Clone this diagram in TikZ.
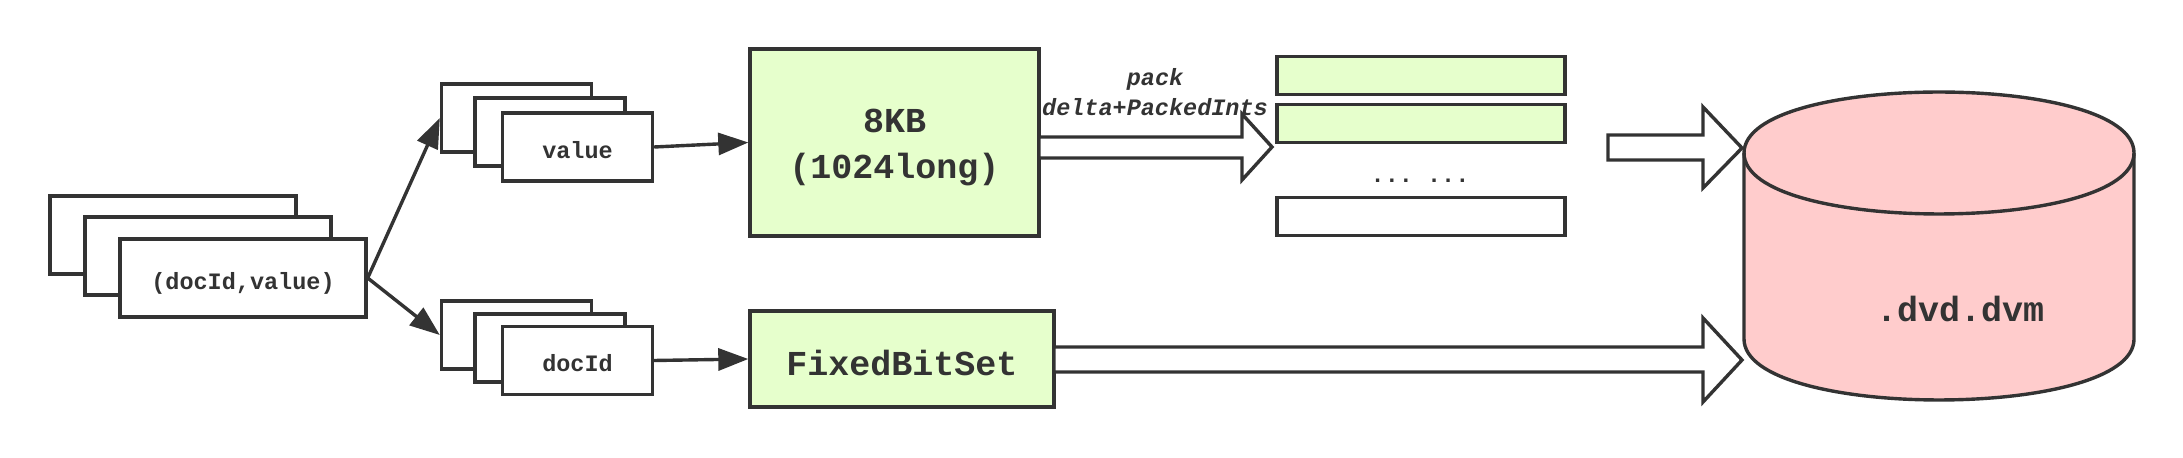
\documentclass[tikz,border=0pt]{standalone}
\usepackage{fontspec}
\setmonofont{Liberation Mono}
\usetikzlibrary{arrows.meta}
\definecolor{ink}{HTML}{333333}
\definecolor{leaf}{HTML}{E6FFCC}
\definecolor{rose}{HTML}{FFCCCC}
\begin{document}
\begin{tikzpicture}[x=0.5pt,y=-0.5pt,line width=1.7pt,draw=ink,
  card/.style={draw=ink,fill=white,line width=1.7pt,inner sep=0pt,text=ink,
    text height=14pt,text depth=2.5pt,
    font=\ttfamily\bfseries\fontsize{11.75}{14}\selectfont},
  bigcard/.style={draw=ink,fill=leaf,line width=1.7pt,inner sep=0pt,text=ink,
    font=\ttfamily\bfseries\fontsize{17.5}{23}\selectfont},
  slot/.style={draw=ink,line width=1.7pt,inner sep=0pt,minimum width=144pt,minimum height=19pt},
  conn/.style={draw=ink,line width=1.7pt,-{Triangle[length=15pt,width=11pt]}},
  fatarrow/.style={draw=ink,fill=white,line width=1.7pt,line join=miter},
  lbl/.style={text=ink,inner sep=0pt,font=\ttfamily\bfseries\itshape\fontsize{11.75}{15}\selectfont,align=center}]
\useasboundingbox (0,0) rectangle (2183,458);
% left stack
\node[card,minimum width=123pt,minimum height=39pt] (la) at (173,235) {};
\node[card,minimum width=123pt,minimum height=39pt] (lb) at (208,256) {};
\node[card,minimum width=123pt,minimum height=39pt] (lc) at (243,278) {(docId,value)};
% top stack
\node[card,minimum width=75pt,minimum height=34pt] (ta) at (516.5,118) {};
\node[card,minimum width=75pt,minimum height=34pt] (tb) at (550,132) {};
\node[card,minimum width=75pt,minimum height=34pt] (tc) at (577.5,147) {value};
% bottom stack
\node[card,minimum width=75pt,minimum height=34pt] (ba) at (516.5,335) {};
\node[card,minimum width=75pt,minimum height=34pt] (bb) at (550,348) {};
\node[card,minimum width=75pt,minimum height=34pt] (bc) at (577.5,360.5) {docId};
% green boxes
\node[bigcard,minimum width=144.5pt,minimum height=93.5pt,align=center] (kb) at (894.5,142.5) {\rule{0pt}{17pt}8KB\\(1024long)};
\node[bigcard,minimum width=152pt,minimum height=48pt,text height=16.5pt,text depth=0pt] (fbs) at (902,359) {FixedBitSet};
% bars
\node[slot,fill=leaf] (s1) at (1421,75.5) {};
\node[slot,fill=leaf] (s2) at (1421,123.5) {};
\node[slot,fill=white] (s3) at (1421,216.5) {};
\node[text=ink,inner sep=0pt,font=\ttfamily\bfseries\fontsize{11.75}{14}\selectfont] (dots) at (1420,181) {... ...};
% pack label
\node[lbl] (packlbl) at (1155,92) {pack\\delta+PackedInts};
% cylinder
\draw[fill=rose,draw=ink,line width=1.7pt] (1744,153) .. controls (1744,71.7) and (2134,71.7) .. (2134,153)
  -- (2134,339) .. controls (2134,420.3) and (1744,420.3) .. (1744,339) -- cycle;
\draw[draw=ink,line width=1.7pt] (1744,153) .. controls (1744,234.3) and (2134,234.3) .. (2134,153);
\node[text=ink,inner sep=0pt,font=\ttfamily\bfseries\fontsize{17.5}{21}\selectfont] (dvm) at (1960,309) {.dvd.dvm};
% connectors
\draw[conn] (lc.east) -- (ta.west);
\draw[conn] (lc.east) -- (ba.west);
\draw[conn] (tc.east) -- (kb.west);
\draw[conn] (bc.east) -- (fbs.west);
% fat arrows
\coordinate (packtip) at (1272,147);
\coordinate (toptip) at (1742,148);
\coordinate (bottip) at (1742,360);
\draw[fatarrow] (1039,137) -- (1242,137) -- (1242,114) -- (packtip) -- (1242,180) -- (1242,158) -- (1039,158) -- cycle;
\draw[fatarrow] (1608,135) -- (1703,135) -- (1703,107) -- (toptip) -- (1703,188) -- (1703,160) -- (1608,160) -- cycle;
\draw[fatarrow] (1054,347) -- (1703,347) -- (1703,318) -- (bottip) -- (1703,402) -- (1703,372) -- (1054,372) -- cycle;
\end{tikzpicture}
\end{document}
